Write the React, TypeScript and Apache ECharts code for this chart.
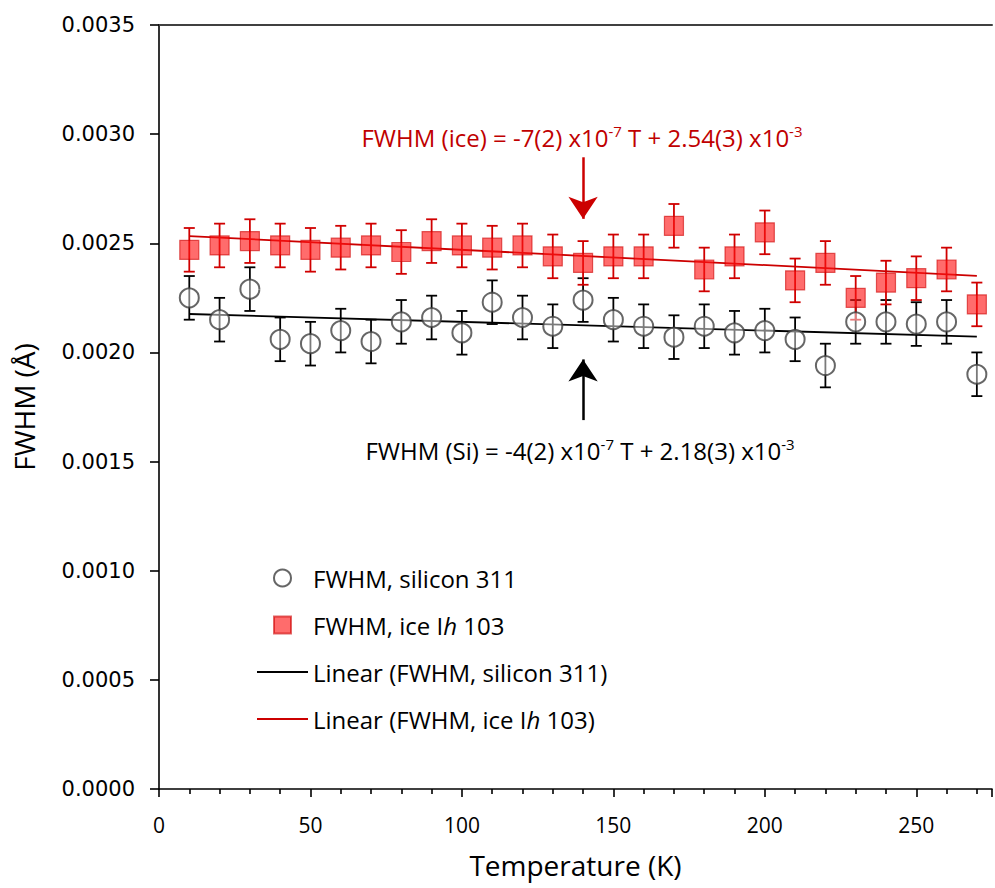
import React, { useEffect, useRef } from "react";
import * as echarts from "echarts";

// Temperatures (K)
const temps = [10, 20, 30, 40, 50, 60, 70, 80, 90, 100, 110, 120, 130, 140, 150, 160, 170, 180, 190, 200, 210, 220, 230, 240, 250, 260, 270];
// FWHM, silicon 311 (Å)
const siValues = [0.00225, 0.00215, 0.00229, 0.00206, 0.00204, 0.0021, 0.00205, 0.00214, 0.00216, 0.00209, 0.00223, 0.00216, 0.00212, 0.00224, 0.00215, 0.00212, 0.00207, 0.00212, 0.00209, 0.0021, 0.00206, 0.00194, 0.00214, 0.00214, 0.00213, 0.00214, 0.0019];
const siErrors = [0.0001, 0.0001, 0.0001, 0.0001, 0.0001, 0.0001, 0.0001, 0.0001, 0.0001, 0.0001, 0.0001, 0.0001, 0.0001, 0.0001, 0.0001, 0.0001, 0.0001, 0.0001, 0.0001, 0.0001, 0.0001, 0.0001, 0.0001, 0.0001, 0.0001, 0.0001, 0.0001];
// FWHM, ice Ih 103 (Å)
const iceValues = [0.00247, 0.00249, 0.00251, 0.00249, 0.00247, 0.00248, 0.00249, 0.00246, 0.00251, 0.00249, 0.00248, 0.00249, 0.00244, 0.00241, 0.00244, 0.00244, 0.00258, 0.00238, 0.00244, 0.00255, 0.00233, 0.00241, 0.00225, 0.00232, 0.00234, 0.00238, 0.00222];
const iceErrors = [0.0001, 0.0001, 0.0001, 0.0001, 0.0001, 0.0001, 0.0001, 0.0001, 0.0001, 0.0001, 0.0001, 0.0001, 0.0001, 0.0001, 0.0001, 0.0001, 0.0001, 0.0001, 0.0001, 0.0001, 0.0001, 0.0001, 0.0001, 0.0001, 0.0001, 0.0001, 0.0001];
// Linear fits (endpoints)
const fitTemps = [10, 270];
const siFitValues = [0.002176, 0.002072];
const iceFitValues = [0.002533, 0.002351];
// Arrows (temperature, start value, tip value)
const arrowT = 140;
const iceArrow = [0.002894, 0.002612];
const siArrow = [0.00169, 0.001968];

const yTicks = { min: 0, max: 0.0035, interval: 0.0005 };
const xTicks = { min: 0, max: 275, interval: 50 };

const names = {
  si: "FWHM, silicon 311",
  ice: "FWHM, ice Ih 103",
  siFit: "Linear (FWHM, silicon 311)",
  iceFit: "Linear (FWHM, ice Ih 103)",
};

const FONT = "Open Sans";
const RED = "#CC0000";
const SQUARE_ICON = "path://M0,0 L10,0 L10,10 L0,10 Z";
const LINE_ICON = "path://M0,0 L51,0 L51,1.8 L0,1.8 Z";

function errorBarSeries(values: number[], errors: number[], color: string) {
  return {
    type: "custom",
    silent: true,
    z: 2,
    data: temps.map((t, i) => [t, values[i] - errors[i], values[i] + errors[i]]),
    encode: { x: 0, y: [1, 2] },
    renderItem: (params: any, api: any) => {
      const x = api.value(0);
      const top = api.coord([x, api.value(2)]);
      const bot = api.coord([x, api.value(1)]);
      const w = 5.5;
      const style = { stroke: color, lineWidth: 1.8 };
      return {
        type: "group",
        children: [
          { type: "line", shape: { x1: top[0], y1: top[1], x2: bot[0], y2: bot[1] }, style },
          { type: "line", shape: { x1: top[0] - w, y1: top[1], x2: top[0] + w, y2: top[1] }, style },
          { type: "line", shape: { x1: bot[0] - w, y1: bot[1], x2: bot[0] + w, y2: bot[1] }, style },
        ],
      };
    },
  };
}

export default function App() {
  const ref = useRef<HTMLDivElement>(null);
  useEffect(() => {
    if (!ref.current) return;
    const chart = echarts.init(ref.current, null, { renderer: "svg" });
    const option: any = {
      animation: false,
      backgroundColor: "#ffffff",
      grid: { left: 159, top: 25, right: 0, bottom: 99 },
      legend: {
        orient: "vertical",
        left: 257,
        top: 566,
        padding: 0,
        itemWidth: 51,
        itemHeight: 17,
        itemGap: 23,
        data: [
          { name: names.si },
          { name: names.ice, icon: SQUARE_ICON },
          { name: names.siFit, icon: LINE_ICON },
          { name: names.iceFit, icon: LINE_ICON },
        ],
        formatter: (n: string) => n.replace("Ih", "I{i|h}"),
        textStyle: {
          fontFamily: FONT,
          fontSize: 24,
          lineHeight: 24,
          color: "#000",
          rich: { i: { fontFamily: FONT, fontSize: 24, fontStyle: "italic", color: "#000" } },
        },
      },
      xAxis: [
        {
          type: "value",
          min: xTicks.min,
          max: xTicks.max,
          interval: xTicks.interval,
          name: "Temperature (K)",
          nameLocation: "middle",
          nameGap: 62,
          nameTextStyle: { fontFamily: FONT, fontSize: 28, color: "#000" },
          axisLine: { show: true, lineStyle: { color: "#000", width: 1.6 } },
          axisTick: { show: true, length: 8, lineStyle: { color: "#000", width: 1.6 } },
          minorTick: { show: true, splitNumber: 5, length: 5, lineStyle: { color: "#000", width: 1.6 } },
          axisLabel: {
            margin: 25,
            fontFamily: FONT,
            fontSize: 21,
            color: "#000",
            formatter: (v: number) => (v % 50 === 0 ? String(v) : ""),
          },
          splitLine: { show: false },
        },
        {
          type: "value",
          position: "top",
          min: xTicks.min,
          max: xTicks.max,
          axisLine: { show: true, lineStyle: { color: "#404040", width: 2 } },
          axisTick: { show: false },
          axisLabel: { show: false },
          splitLine: { show: false },
        },
      ],
      yAxis: {
        type: "value",
        min: yTicks.min,
        max: yTicks.max,
        interval: yTicks.interval,
        name: "FWHM (Å)",
        nameLocation: "middle",
        nameGap: 121,
        nameTextStyle: { fontFamily: FONT, fontSize: 28, color: "#000" },
        axisLine: { show: true, lineStyle: { color: "#000", width: 1.6 } },
        axisTick: { show: true, length: 9, lineStyle: { color: "#000", width: 1.6 } },
        axisLabel: {
          margin: 24,
          fontFamily: "DejaVu Sans",
          fontSize: 21,
          color: "#000",
          formatter: (v: number) => v.toFixed(4),
        },
        splitLine: { show: false },
      },
      series: [
        {
          name: names.siFit,
          type: "line",
          symbol: "none",
          z: 1,
          data: fitTemps.map((t, i) => [t, siFitValues[i]]),
          lineStyle: { color: "#000", width: 1.8 },
          itemStyle: { color: "#000" },
          markLine: {
            silent: true,
            symbol: ["none", "arrow"],
            symbolSize: 22,
            label: { show: false },
            lineStyle: { color: "#000", width: 2.5, type: "solid" },
            data: [[{ coord: [arrowT, siArrow[0]] }, { coord: [arrowT, siArrow[1]] }]],
          },
        },
        {
          name: names.iceFit,
          type: "line",
          symbol: "none",
          z: 1,
          data: fitTemps.map((t, i) => [t, iceFitValues[i]]),
          lineStyle: { color: RED, width: 1.8 },
          itemStyle: { color: RED },
          markLine: {
            silent: true,
            symbol: ["none", "arrow"],
            symbolSize: 22,
            label: { show: false },
            lineStyle: { color: RED, width: 2.5, type: "solid" },
            data: [[{ coord: [arrowT, iceArrow[0]] }, { coord: [arrowT, iceArrow[1]] }]],
          },
        },
        errorBarSeries(siValues, siErrors, "#000"),
        errorBarSeries(iceValues, iceErrors, "#D00000"),
        {
          name: names.si,
          type: "scatter",
          symbol: "circle",
          symbolSize: 19,
          z: 3,
          data: temps.map((t, i) => [t, siValues[i]]),
          itemStyle: { color: "rgba(255,255,255,0.6)", borderColor: "#404040", borderWidth: 2 },
        },
        {
          name: names.ice,
          type: "scatter",
          symbol: "rect",
          symbolSize: 19,
          z: 3,
          data: temps.map((t, i) => [t, iceValues[i]]),
          itemStyle: { color: "rgba(255,20,20,0.78)", borderColor: "rgba(205,0,0,0.75)", borderWidth: 1.2 },
        },
      ],
      graphic: [
        {
          type: "text",
          x: 582,
          y: 137,
          silent: true,
          style: {
            text: "FWHM (ice) = -7(2) x10{sup|-7} T + 2.54(3) x10{sup|-3}",
            fontFamily: FONT,
            fontSize: 24,
            fill: "#C00000",
            align: "center",
            verticalAlign: "middle",
            rich: { sup: { fontFamily: FONT, fontSize: 15, fill: "#C00000", padding: [0, 0, 12, 0] } },
          },
        },
        {
          type: "text",
          x: 580,
          y: 450,
          silent: true,
          style: {
            text: "FWHM (Si) = -4(2) x10{sup|-7} T + 2.18(3) x10{sup|-3}",
            fontFamily: FONT,
            fontSize: 24,
            fill: "#000",
            align: "center",
            verticalAlign: "middle",
            rich: { sup: { fontFamily: FONT, fontSize: 15, fill: "#000", padding: [0, 0, 12, 0] } },
          },
        },
      ],
    };
    chart.setOption(option);
    return () => chart.dispose();
  }, []);
  return (
    <div
      ref={ref}
      style={{ position: "fixed", left: 0, top: 0, width: 995, height: 888, background: "#fff" }}
    />
  );
}
